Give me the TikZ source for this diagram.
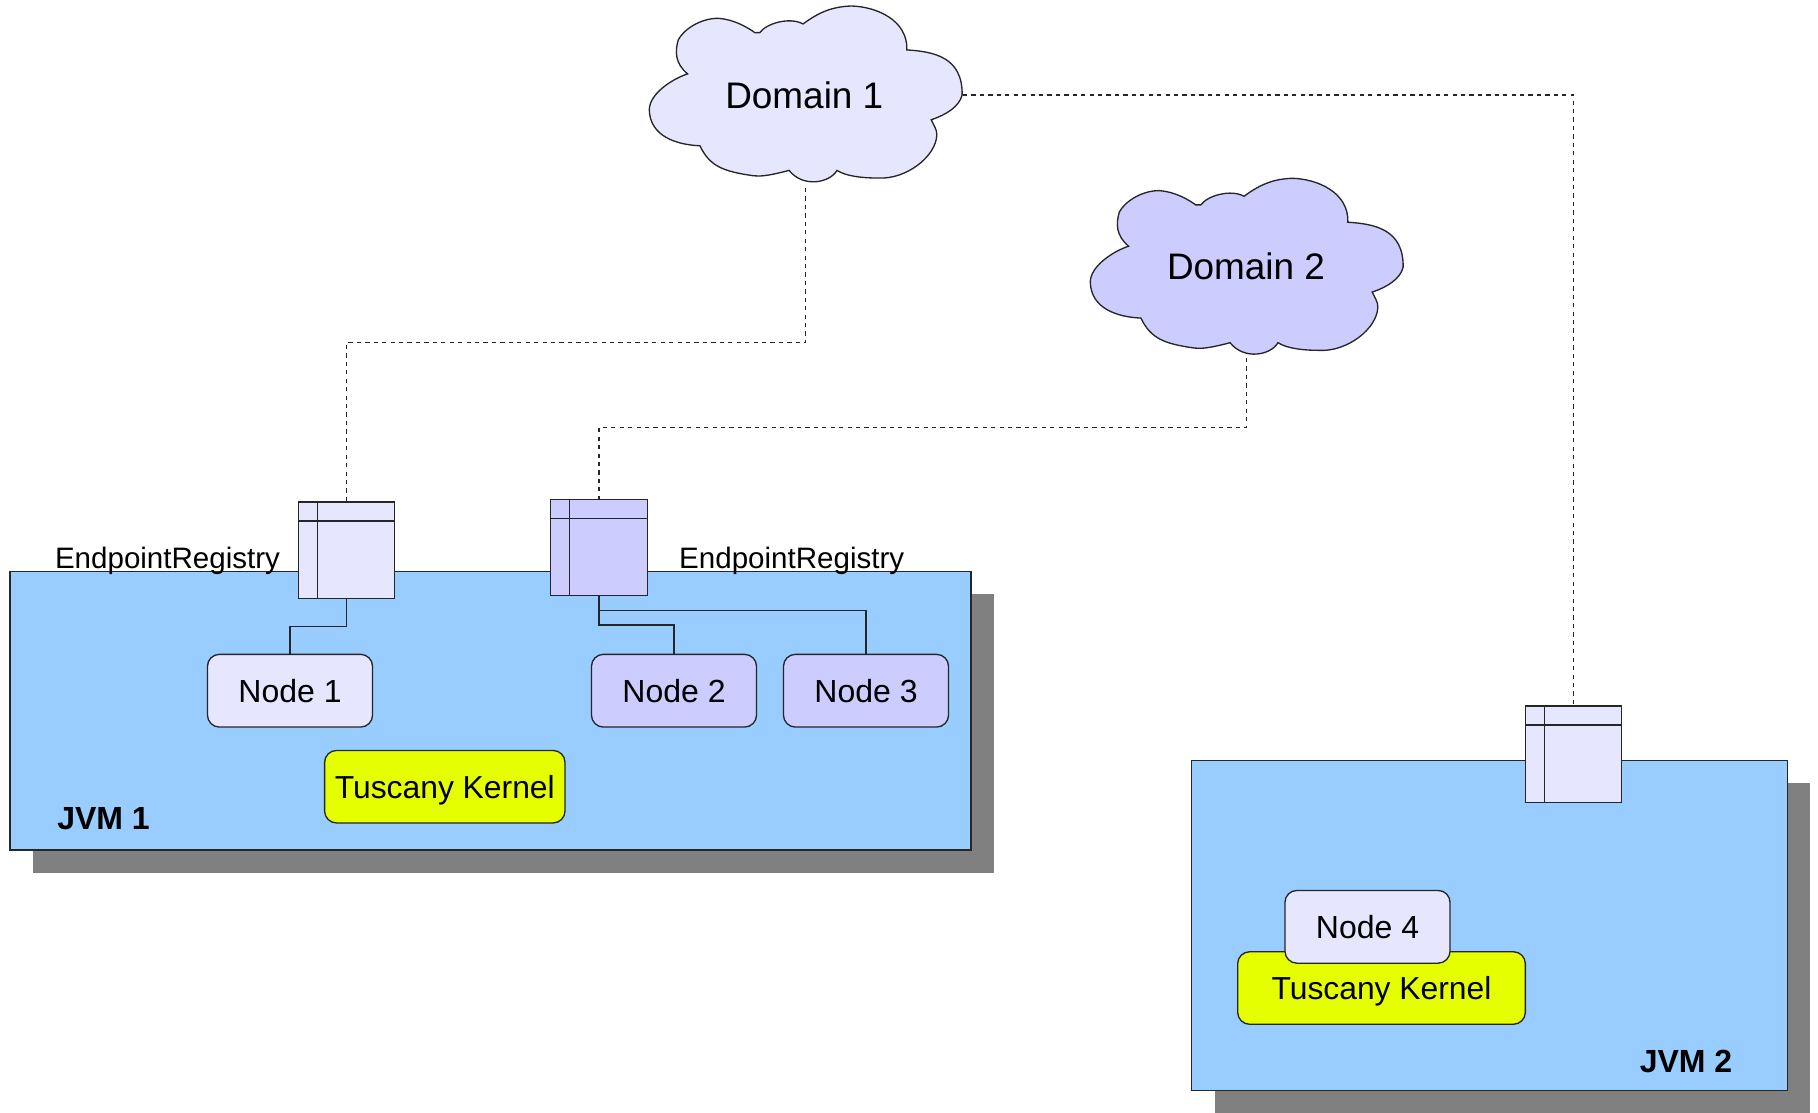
\documentclass[tikz,border=0pt]{standalone}
\usepackage{fontspec}
\setmainfont{Liberation Sans}
\usetikzlibrary{shadows}
\definecolor{lightlilac}{HTML}{E6E6FF}
\definecolor{midlilac}{HTML}{CCCCFF}
\definecolor{jvmblue}{HTML}{99CCFF}
\definecolor{kernelyellow}{HTML}{E6FF00}
\definecolor{shadowgray}{HTML}{808080}
\newcommand{\cloudoutline}{(862,150) .. controls (940,155) and (1030,170) .. (1028,285)
    .. controls (1020,320) and (980,345) .. (935,360)
    .. controls (945,380) and (952,390) .. (952,405)
    .. controls (950,470) and (860,540) .. (775,535)
    .. controls (730,535) and (680,530) .. (652,512)
    .. controls (630,550) and (550,565) .. (508,512)
    .. controls (440,530) and (420,530) .. (400,528)
    .. controls (310,515) and (270,500) .. (240,438)
    .. controls (170,435) and (90,410) .. (88,330)
    .. controls (88,285) and (150,240) .. (203,222)
    .. controls (165,190) and (165,155) .. (175,120)
    .. controls (190,90) and (240,55) .. (295,55)
    .. controls (340,58) and (380,80) .. (405,98)
    -- (420,98) .. controls (440,70) and (510,50) .. (550,72)
    .. controls (600,35) and (640,20) .. (695,18)
    .. controls (770,20) and (865,60) .. (862,150) -- cycle}
\tikzset{
    line/.style={line width=0.38pt,draw=black!85},
    wire/.style={line},
    link/.style={line,dash pattern=on 1.2pt off 1.2pt},
    jvm/.style={line,fill=jvmblue,inner sep=0pt,outer sep=0pt,
        drop shadow={shadow xshift=0.23cm,shadow yshift=-0.23cm,fill=shadowgray,opacity=1}},
    box/.style={line,rounded corners=0.12cm,inner sep=0pt,outer sep=0pt,
        text height=1.5ex,text depth=0.25ex},
    nodebox/.style={box,minimum width=1.65cm,minimum height=0.727cm,font=\fontsize{9.1}{11}\selectfont},
    kernel/.style={box,fill=kernelyellow,minimum height=0.725cm,font=\fontsize{9.05}{11}\selectfont},
    registry/.style={line,minimum width=0.965cm,minimum height=0.965cm,inner sep=0pt,outer sep=0pt,
        path picture={
            \draw[line] ([xshift=0.19cm]path picture bounding box.north west) -- ([xshift=0.19cm]path picture bounding box.south west);
            \draw[line] ([yshift=-0.19cm]path picture bounding box.north west) -- ([yshift=-0.19cm]path picture bounding box.north east);
        }},
    title/.style={font=\fontsize{10.5}{12}\selectfont},
    caption/.style={anchor=base,font=\fontsize{8.4}{10}\selectfont},
    jvmlabel/.style={font=\fontsize{9.1}{11}\selectfont\bfseries},
}
\begin{document}
\begin{tikzpicture}[x=0.01cm,y=-0.01cm]
    \useasboundingbox (0,0) rectangle (1818,1112);
    \node[jvm,minimum width=9.604cm,minimum height=2.787cm] (jvm1) at (490.5,710.7) {};
    \node[jvm,minimum width=5.952cm,minimum height=3.3cm] (jvm2) at (1489.5,925.3) {};
    \begin{scope}[shift={(620,0)},x=0.003333cm,y=-0.003333cm]
        \draw[line,fill=lightlilac] \cloudoutline;
    \end{scope}
    \begin{scope}[shift={(1061,172.3)},x=0.003333cm,y=-0.003333cm]
        \draw[line,fill=midlilac] \cloudoutline;
    \end{scope}
    \node[title] (domain1) at (804.3,95) {Domain 1};
    \node[title] (domain2) at (1246,266.7) {Domain 2};
    \coordinate (domain1south) at (805.7,188);
    \coordinate (domain1east) at (963,95);
    \coordinate (domain2south) at (1246.2,358);
    \node[registry,fill=lightlilac] (registry1) at (346.5,550.3) {};
    \node[registry,fill=midlilac] (registry2) at (599,547.5) {};
    \node[registry,fill=lightlilac] (registry3) at (1573.5,754.4) {};
    \node[caption] (caption1) at (167.5,568.6) {EndpointRegistry};
    \node[caption] (caption2) at (791.7,568.6) {EndpointRegistry};
    \node[nodebox,fill=lightlilac] (node1) at (290,690.7) {Node 1};
    \node[nodebox,fill=midlilac] (node2) at (674,690.7) {Node 2};
    \node[nodebox,fill=midlilac] (node3) at (866,690.7) {Node 3};
    \node[kernel,minimum width=2.403cm] (kernel1) at (444.8,786.7) {Tuscany Kernel};
    \node[kernel,minimum width=2.875cm] (kernel2) at (1381.5,988) {Tuscany Kernel};
    \node[nodebox,fill=lightlilac] (node4) at (1367.5,926.8) {Node 4};
    \node[jvmlabel] (jvmlabel1) at (103.5,819) {JVM 1};
    \node[jvmlabel] (jvmlabel2) at (1686,1061.5) {JVM 2};
    \draw[link] (domain1south) -- (805.7,342.6) -| (registry1.north);
    \draw[link] (domain1east) -| (registry3.north);
    \draw[link] (domain2south) -- (1246.2,427.8) -| (registry2.north);
    \draw[wire] (registry1.south) -- (346.5,626.3) -| (node1.north);
    \draw[wire] (registry2.south) -- (599,625) -| (node2.north);
    \draw[wire] (registry2.south) -- (599,610.3) -| (node3.north);
\end{tikzpicture}
\end{document}
